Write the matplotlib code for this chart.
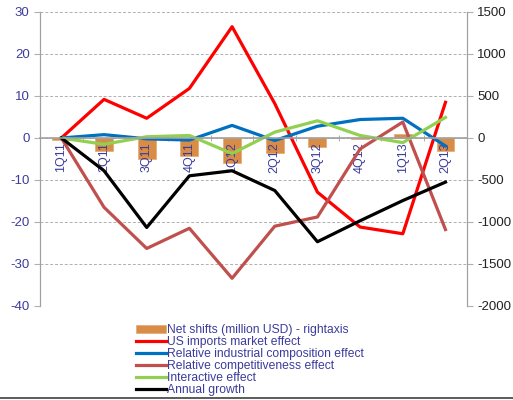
import matplotlib
matplotlib.use("Agg")
import matplotlib.pyplot as plt
from matplotlib.lines import Line2D
import numpy as np

plt.rcParams['font.family'] = ['Liberation Sans', 'DejaVu Sans']
plt.rcParams['axes.unicode_minus'] = False

# quarters on the x axis
quarters = ["1Q11", "2Q11", "3Q11", "4Q11", "1Q12", "2Q12", "3Q12", "4Q12", "1Q13", "2Q13"]

# net shifts, million USD (right axis)
net_shifts = [-20, -150, -255, -214, -294, -176, -102, -10, 49, -156]

# effects (left axis)
us_imports = [0, 9.2, 4.7, 11.8, 26.5, 8.2, -12.9, -21.2, -22.8, 8.5]
industrial_comp = [0, 0.8, -0.2, -0.5, 3.0, -0.6, 2.8, 4.4, 4.7, -1.9]
competitiveness = [0, -16.5, -26.3, -21.5, -33.4, -21.0, -18.8, -2.6, 3.8, -21.8]
interactive = [0, -1.5, 0.3, 0.6, -3.7, 1.4, 4.1, 0.6, -1.1, 4.9]
annual_growth = [0, -7.8, -21.3, -9.0, -7.8, -12.5, -24.7, -19.7, -14.9, -10.5]

label_col = '#3c3c9c'
grid_col = '#b0b0b0'

fig = plt.figure(figsize=(5.13, 4.0), dpi=100)
ax = fig.add_axes([0.078, 0.235, 0.832, 0.735])
ax2 = ax.twinx()

x = np.arange(len(quarters))

# bars on the right axis, drawn underneath the lines
bars = ax2.bar(x, net_shifts, width=0.42, color='#d98c45', edgecolor='#e6a872', linewidth=0.5)
ax2.set_ylim(-2000, 1500)
ax2.set_yticks(np.arange(-2000, 1501, 500))
ax2.tick_params(axis='y', labelsize=9.5, colors='#222222', length=4, direction='out')
ax2.tick_params(axis='y', color=grid_col)

ax.set_zorder(ax2.get_zorder() + 1)
ax.patch.set_visible(False)

lw = 2.3
l1, = ax.plot(x, us_imports, color='#ff0000', lw=lw)
l2, = ax.plot(x, industrial_comp, color='#0070c0', lw=lw)
l3, = ax.plot(x, competitiveness, color='#c0504d', lw=lw)
l4, = ax.plot(x, interactive, color='#92d050', lw=lw)
l5, = ax.plot(x, annual_growth, color='#000000', lw=lw)

ax.set_xlim(-0.5, len(quarters) - 0.5)
ax.set_ylim(-40, 30)
ax.set_yticks(np.arange(-40, 31, 10))
ax.yaxis.grid(True, linestyle=(0, (3, 2)), color=grid_col, linewidth=0.7)
ax.set_axisbelow(True)
ax.tick_params(axis='y', labelsize=9.5, colors=label_col, length=4, direction='out')
ax.tick_params(axis='y', color=grid_col)

# x axis crossing at zero
ax.spines['bottom'].set_position(('data', 0))
ax.spines['bottom'].set_color('#a0a0a0')
ax.spines['bottom'].set_linewidth(1.2)
ax.spines['top'].set_visible(False)
ax2.spines['top'].set_visible(False)
ax2.spines['bottom'].set_visible(False)
for a in (ax, ax2):
    a.spines['left'].set_color('#a0a0a0')
    a.spines['right'].set_color('#a0a0a0')
ax.set_xticks(x)
ax.set_xticklabels(quarters, rotation=90, fontsize=9, color=label_col)
ax.tick_params(axis='x', which='major', length=0, pad=3)
ax.set_xticks(np.arange(-0.5, len(quarters), 1), minor=True)
ax.tick_params(axis='x', which='minor', length=4, direction='inout', color='#a0a0a0')

handles = [bars, l1, l2, l3, l4, l5]
labels = ["Net shifts (million USD) - rightaxis", "US imports market effect",
          "Relative industrial composition effect", "Relative competitiveness effect",
          "Interactive effect", "Annual growth"]
leg = fig.legend(handles, labels, loc='upper left', bbox_to_anchor=(0.265, 0.19),
                 frameon=False, fontsize=8.7, handlelength=2.45, handletextpad=0.15,
                 labelspacing=0.0, borderaxespad=0, borderpad=0)
for t in leg.get_texts():
    t.set_color(label_col)

fig.add_artist(Line2D([0, 1], [0.006, 0.006], color='#404040', lw=1.2, transform=fig.transFigure))

fig.savefig("out.png", dpi=100)
